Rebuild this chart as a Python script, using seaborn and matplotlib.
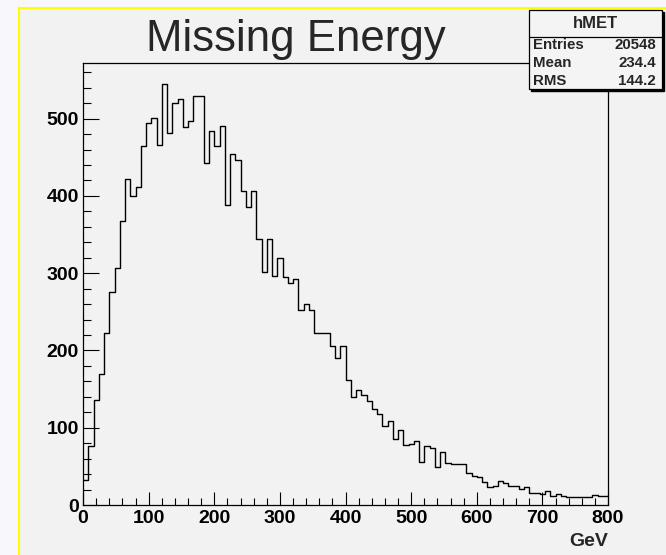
import matplotlib
matplotlib.use('Agg')
import matplotlib.pyplot as plt
import numpy as np
import pandas as pd
import seaborn as sns
from matplotlib.patches import Rectangle
from matplotlib.lines import Line2D
from matplotlib.ticker import MultipleLocator

# bin contents of hMET, 8 GeV bins from 0 to 800 GeV
counts = [33, 77, 136, 169, 222, 276, 307, 367, 422, 400,
          412, 465, 494, 501, 466, 545, 481, 520, 525, 489,
          497, 529, 529, 442, 484, 465, 491, 388, 454, 447,
          406, 386, 406, 344, 301, 344, 296, 320, 295, 287,
          293, 253, 260, 253, 222, 222, 222, 206, 190, 206,
          162, 140, 149, 143, 134, 124, 118, 102, 109, 86,
          97, 78, 79, 83, 56, 77, 74, 49, 69, 54,
          53, 53, 53, 42, 38, 36, 30, 23, 25, 31,
          28, 25, 25, 21, 23, 16, 15, 14, 18, 12,
          14, 12, 10, 10, 10, 10, 11, 13, 12, 12]
bin_edges = np.linspace(0, 800, 101)
bin_centers = (bin_edges[:-1] + bin_edges[1:]) / 2

stat_names = ['Entries', 'Mean', 'RMS']
stat_values = ['20548', '234.4', '144.2']

df = pd.DataFrame({'met': bin_centers, 'count': counts})

sns.set_style('ticks')
plt.rcParams['font.family'] = ['Liberation Sans', 'DejaVu Sans']

W, H = 666, 555
fig = plt.figure(figsize=(6.66, 5.55), dpi=100, facecolor='#f8f8fc')

# grey canvas with yellow border on top/left
fig.patches.append(Rectangle((18.5 / W, -0.1), 1.1, 1 - 8 / H + 0.1, transform=fig.transFigure,
                             facecolor='#f2f2f2', edgecolor='#ffff00', linewidth=1.5, zorder=-1))

ax = fig.add_axes([83 / W, 50 / H, 525 / W, 442 / H])
ax.set_facecolor('#f2f2f2')
sns.histplot(data=df, x='met', weights='count', bins=list(bin_edges), element='step', fill=False,
             color='black', linewidth=1, ax=ax)
ax.set_xlim(0, 800)
ax.set_ylim(0, 572)
ax.set_xlabel('')
ax.set_ylabel('')
for s in ax.spines.values():
    s.set_color('black')
    s.set_linewidth(0.9)

ax.xaxis.set_major_locator(MultipleLocator(100))
ax.xaxis.set_minor_locator(MultipleLocator(20))
ax.yaxis.set_major_locator(MultipleLocator(100))
ax.yaxis.set_minor_locator(MultipleLocator(20))
ax.tick_params(which='both', direction='in', width=0.8, labelsize=14, colors='black')
ax.tick_params(axis='y', which='major', length=11.5, pad=3)
ax.tick_params(axis='y', which='minor', length=5.8)
ax.tick_params(axis='x', which='major', length=9.4, pad=3.5)
ax.tick_params(axis='x', which='minor', length=5)
for lab in ax.get_xticklabels() + ax.get_yticklabels():
    lab.set_fontweight('bold')

fig.text(608 / W, 1 - 542 / H, 'GeV', ha='right', va='center', fontsize=14, fontweight='bold')
fig.text(296 / W, 1 - 40 / H, 'Missing Energy', ha='center', va='center', fontsize=31.5)

# stats box
bx0, bx1, by0, by1 = 529, 662, 10, 89
fig.patches.append(Rectangle(((bx0 + 2) / W, 1 - (by1 + 2) / H), (bx1 - bx0) / W, (by1 - by0) / H,
                             transform=fig.transFigure, facecolor='black', edgecolor='black', zorder=5))
fig.patches.append(Rectangle((bx0 / W, 1 - by1 / H), (bx1 - bx0) / W, (by1 - by0) / H,
                             transform=fig.transFigure, facecolor='#f4f4f4', edgecolor='black',
                             linewidth=0.9, zorder=6))
fig.add_artist(Line2D([bx0 / W, bx1 / W], [1 - 36.5 / H, 1 - 36.5 / H], transform=fig.transFigure,
                      color='black', linewidth=0.9, zorder=7))
fig.text((bx0 + bx1) / 2 / W, 1 - 23 / H, 'hMET', ha='center', va='center', fontsize=12,
         fontweight='bold', zorder=8)
for i, (n, v) in enumerate(zip(stat_names, stat_values)):
    y = 1 - (45 + 18 * i) / H
    fig.text(533 / W, y, n, ha='left', va='center', fontsize=10.8, fontweight='bold', zorder=8)
    fig.text(656 / W, y, v, ha='right', va='center', fontsize=10.8, fontweight='bold', zorder=8)

fig.savefig('out.png', dpi=100, facecolor=fig.get_facecolor())
